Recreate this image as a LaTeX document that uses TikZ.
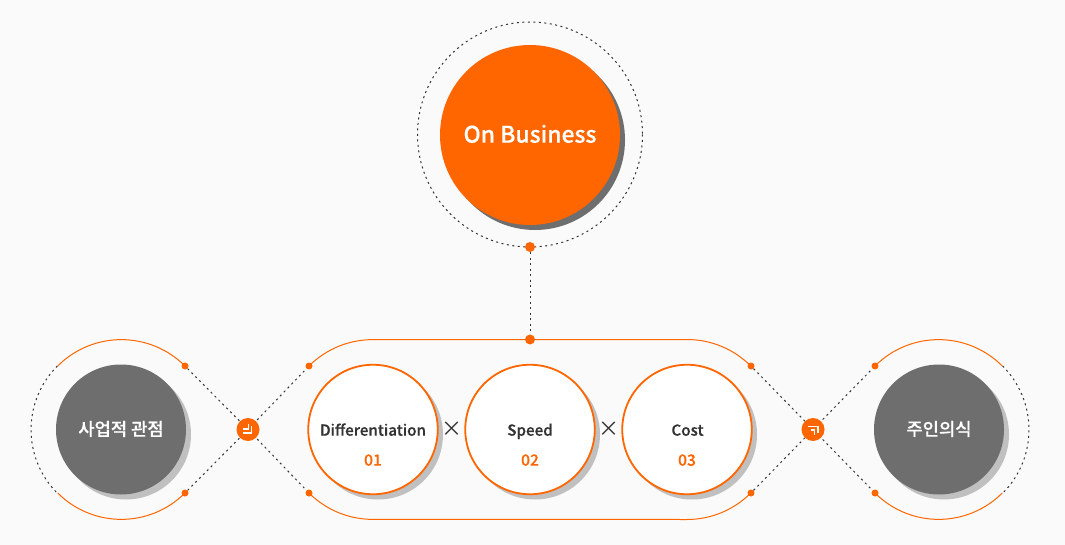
\documentclass[tikz,border=0pt]{standalone}
\usepackage{fontspec}
\setmainfont{Noto Sans CJK KR}
\newfontfamily\medf[FakeBold=0.3]{Noto Sans CJK KR Medium}
\definecolor{org}{HTML}{FF6600}
\definecolor{gry}{HTML}{6E6E6E}
\definecolor{shd}{HTML}{C0C0C0}
\definecolor{bgc}{HTML}{FAFAFA}
\definecolor{ink}{HTML}{333333}
\tikzset{
  dotline/.style={draw=ink,line width=1pt,dash pattern=on 2pt off 3.5pt},
  orgline/.style={draw=org,line width=1pt},
  pin/.style={circle,fill=org,inner sep=0pt,minimum size=7pt},
  bigpin/.style={circle,fill=org,inner sep=0pt,minimum size=10pt},
  hub/.style={circle,fill=org,inner sep=0pt,minimum size=23pt},
  greyball/.style={circle,fill=gry,inner sep=0pt,minimum size=130pt},
  balltext/.style={text=white,font=\medf\fontsize{17.7}{20}\selectfont,inner sep=0pt,anchor=base},
  whiteball/.style={circle,fill=white,draw=org,line width=1.8pt,inner sep=0pt,minimum size=129.5pt},
  shadowball/.style={circle,fill=shd,inner sep=0pt,minimum size=130pt},
  title/.style={text=ink,font=\medf\fontsize{15.2}{17}\selectfont,inner sep=0pt,anchor=base},
  num/.style={text=org,font=\medf\fontsize{15.6}{17}\selectfont,inner sep=0pt,anchor=base},
  timesmark/.style={text=ink,font=\fontsize{21}{24}\selectfont,inner sep=0pt},
  icon/.style={draw=white,line width=1.2pt}
}
\begin{document}
\begin{tikzpicture}[x=1pt,y=-1pt]
\fill[bgc] (0,0) rectangle (1065,545);
\useasboundingbox (0,0) rectangle (1065,545);
% top
\node[circle,inner sep=0pt,minimum size=225pt] (ring) at (530,134.5) {};
\draw[dotline] (ring.center) circle[radius=112.5];
\node[circle,fill=gry,inner sep=0pt,minimum size=180pt] (topshadow) at (535,140) {};
\node[circle,fill=org,inner sep=0pt,minimum size=180pt] (top) at (530,135) {};
\node[text=white,font=\medf\fontsize{22.9}{26}\selectfont,inner sep=0pt,anchor=base] (toptext) at (530,142.7) {On Business};
\node[bigpin] (p1) at (530,247) {};
\node[bigpin] (p2) at (530,339.5) {};
\draw[dotline] (p1) -- (p2);
% hubs and pins
\node[pin] (a1) at (185,366) {};
\node[pin] (a2) at (185,493) {};
\node[pin] (b1) at (309,366) {};
\node[pin] (b2) at (309,493) {};
\node[pin] (c1) at (751,366) {};
\node[pin] (c2) at (751,493) {};
\node[pin] (d1) at (875,366) {};
\node[pin] (d2) at (875,493) {};
\coordinate (hl) at (248,429.5);
\coordinate (hr) at (813,429.5);
\draw[dotline] (a1) -- (hl) -- (b2);
\draw[dotline] (a2) -- (hl) -- (b1);
\draw[dotline] (c1) -- (hr) -- (d2);
\draw[dotline] (c2) -- (hr) -- (d1);
\node[hub] (hubl) at (hl) {};
\node[hub] (hubr) at (hr) {};
\draw[icon] (243,429) -- (248.5,429) -- (248.5,424);
\draw[icon] (243,433) -- (251.5,433) -- (251.5,426);
\draw[icon] (808,426.5) -- (818,426.5) -- (818,433);
\draw[icon] (810.5,430) -- (814.5,430) -- (814.5,435);
% left ring
\draw[orgline] (a1) arc[start angle=-45,end angle=-135,radius=90];
\draw[orgline] (a2) arc[start angle=45,end angle=135,radius=90];
\draw[dotline] (57.4,366) arc[start angle=-135,end angle=-225,radius=90];
% right ring
\draw[orgline] (d1) arc[start angle=-135,end angle=-45,radius=90];
\draw[orgline] (d2) arc[start angle=135,end angle=45,radius=90];
\draw[dotline] (1002.6,366) arc[start angle=-45,end angle=45,radius=90];
% stadium
\draw[orgline] (b1) arc[start angle=-135,end angle=-90,radius=90] -- (687,339.5) arc[start angle=-90,end angle=-45,radius=90];
\draw[orgline] (b2) arc[start angle=135,end angle=90,radius=90] -- (687,519.5) arc[start angle=90,end angle=45,radius=90];
% grey balls
\node[shadowball] (ls) at (126,434.5) {};
\node[shadowball] (rs) at (944,434.5) {};
\node[greyball] (lb) at (121,429.5) {};
\node[greyball] (rb) at (939,429.5) {};
\node[balltext] (lt) at (121,435.5) {사업적 관점};
\node[balltext] (rt) at (939,435.5) {주인의식};
% white balls
\foreach \n/\x in {s1/373,s2/530,s3/687}{
  \node[shadowball] (\n s) at (\x+5,434.5) {};
  \node[whiteball] (\n) at (\x,429.5) {};
}
\node[title] (t1) at (373,435.7) {Differentiation};
\node[title] (t2) at (530,435.7) {Speed};
\node[title] (t3) at (687.5,435.7) {Cost};
\node[num] (n1) at (373,465.7) {01};
\node[num] (n2) at (530,465.7) {02};
\node[num] (n3) at (687,465.7) {03};
\node[timesmark] (x1) at (452,429.5) {×};
\node[timesmark] (x2) at (609,429.5) {×};
\end{tikzpicture}
\end{document}
